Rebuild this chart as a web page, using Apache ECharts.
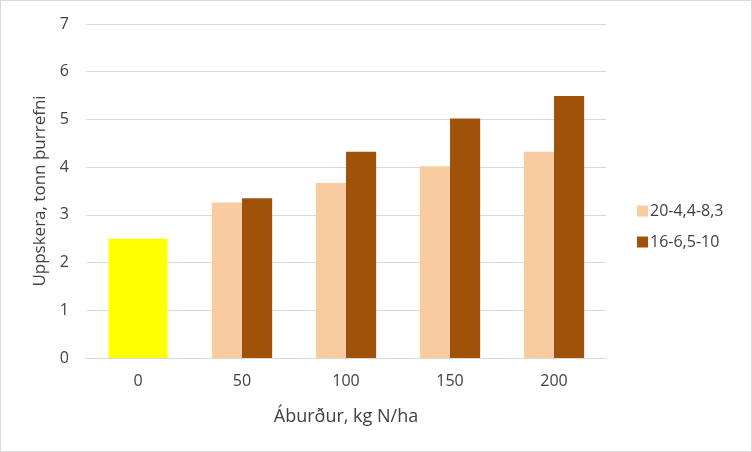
<!DOCTYPE html>
<html><head><meta charset="utf-8">
<script src="https://cdn.jsdelivr.net/npm/echarts@6/dist/echarts.min.js"></script>
<style>html,body{margin:0;padding:0;background:#fff}#c{width:752px;height:452px;box-sizing:border-box;border:1px solid #d9d9d9}</style>
</head><body><div id="c"></div>
<script>
const categories = ['0','50','100','150','200'];
const seriesNames = ['20-4,4-8,3','16-6,5-10'];
const peachValues = [null, 3.26, 3.67, 4.02, 4.32];
const brownValues = [null, 3.35, 4.32, 5.02, 5.49];
const controlValues = [2.5, null, null, null, null];
const yTicks = [0,1,2,3,4,5,6,7];

const font = 'Open Sans, Liberation Sans, sans-serif';
const chart = echarts.init(document.getElementById('c'));
chart.setOption({
  animation:false,
  legend:{orient:'vertical', left:631, top:197, itemWidth:11, itemHeight:11, itemGap:15,
    data:seriesNames, icon:'rect',
    textStyle:{fontFamily:font, fontSize:16, color:'#404040', padding:[0,0,0,-3]}},
  grid:{left:85, right:145, top:23, bottom:93, containLabel:false},
  xAxis:[{type:'category', data:categories, axisTick:{show:false},
    axisLine:{lineStyle:{color:'#d9d9d9'}},
    axisLabel:{fontFamily:font, fontSize:16, color:'#404040', margin:15},
    name:'Áburður, kg N/ha', nameLocation:'middle', nameGap:50,
    nameTextStyle:{fontFamily:font, fontSize:18, color:'#404040'}},
    {type:'category', data:categories, show:false}],
  yAxis:{type:'value', min:0, max:7, interval:1,
    axisLabel:{fontFamily:font, fontSize:16, color:'#404040', margin:17,
      formatter:v=>yTicks.includes(v)?String(v):''},
    splitLine:{lineStyle:{color:'#d9d9d9', width:1}},
    name:'Uppskera, tonn þurrefni', nameLocation:'middle', nameGap:36,
    nameTextStyle:{fontFamily:font, fontSize:17, color:'#404040'}},
  series:[
    {name:seriesNames[0], type:'bar', data:peachValues, barGap:'0%', barCategoryGap:'42%',
      itemStyle:{color:'#F8CBA0'}},
    {name:seriesNames[1], type:'bar', data:brownValues,
      itemStyle:{color:'#A0520A'}},
    {name:'0', type:'bar', xAxisIndex:1, data:controlValues, barWidth:59,
      itemStyle:{color:'#FFFF00'}}
  ]
});
</script></body></html>
